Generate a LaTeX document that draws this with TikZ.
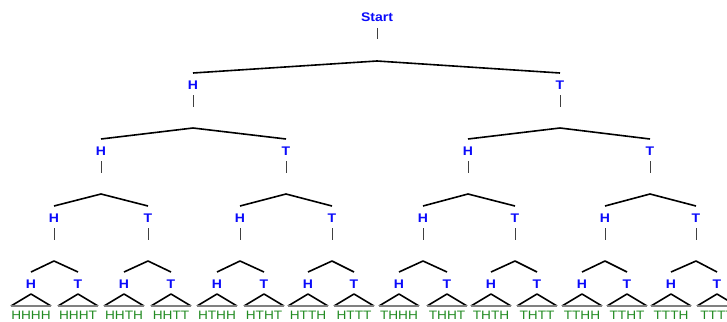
\documentclass[tikz,border=0pt]{standalone}
\usepackage{fontspec}
\newfontfamily\coinfont[FakeStretch=1.12]{Liberation Sans Bold}
\newfontfamily\leaffont[FakeStretch=1.12]{Liberation Sans}
\definecolor{coinblue}{RGB}{10,10,250}
\definecolor{leafgreen}{RGB}{34,139,34}
\tikzset{
  coin/.style={font=\coinfont\fontsize{12.5}{12.5}\selectfont, text=coinblue, inner sep=0pt},
  leaf/.style={font=\leaffont\fontsize{12.2}{12.2}\selectfont, text=leafgreen, inner sep=0pt},
  roof/.style={draw=black, line width=1.6pt, line join=round},
  tick/.style={draw=black!75, line width=1pt},
  side/.style={draw=black, line width=1.6pt, line join=round},
  base/.style={draw=gray, line width=2.6pt},
}
% a labelled outcome: name, x, y, letter; with its roof end (-r) and apex (-a)
\newcommand\coinnode[4]{%
  \node[coin] (#1) at (#2,#3) {#4};
  \coordinate (#1-r) at (#2,#3-12);
  \coordinate (#1-a) at (#2,#3+43);
  \draw[tick] ([yshift=-10pt]#1.center) -- ([yshift=-22pt]#1.center);
}
% a final outcome: name, x, letter; with the small roof over its sequence
\newcommand\lastnode[3]{%
  \node[coin] (#1) at (#2,284) {#3};
  \coordinate (#1-r) at (#2,272);
  \node[leaf] (#1-seq) at (#2,315.5) {#1};
  \draw[side] ([xshift=-20pt,yshift=9.5pt]#1-seq.center) -- ([yshift=21.5pt]#1-seq.center) -- ([xshift=20pt,yshift=9.5pt]#1-seq.center);
  \draw[base] ([xshift=-20pt,yshift=9.5pt]#1-seq.center) -- ([xshift=20pt,yshift=9.5pt]#1-seq.center);
}
\begin{document}
\begin{tikzpicture}[x=1pt,y=-1pt]
\useasboundingbox (0,0) rectangle (727,321);

% root
\node[coin] (S) at (377,17) {Start};
\coordinate (S-a) at (377,61);
\draw[tick] ([yshift=-11pt]S.center) -- ([yshift=-22pt]S.center);

% first toss
\coinnode{H}{193}{85}{H}
\coinnode{T}{560}{85}{T}

% second toss
\coinnode{HH}{101}{151}{H}
\coinnode{HT}{286}{151}{T}
\coinnode{TH}{468}{151}{H}
\coinnode{TT}{650}{151}{T}

% third toss
\coinnode{HHH}{54}{218}{H}
\coinnode{HHT}{148}{218}{T}
\coinnode{HTH}{240}{218}{H}
\coinnode{HTT}{332}{218}{T}
\coinnode{THH}{423}{218}{H}
\coinnode{THT}{515}{218}{T}
\coinnode{TTH}{605}{218}{H}
\coinnode{TTT}{696}{218}{T}

% fourth toss and the sixteen sequences
\lastnode{HHHH}{31}{H}
\lastnode{HHHT}{78}{T}
\lastnode{HHTH}{124}{H}
\lastnode{HHTT}{171}{T}
\lastnode{HTHH}{217}{H}
\lastnode{HTHT}{264}{T}
\lastnode{HTTH}{308}{H}
\lastnode{HTTT}{354}{T}
\lastnode{THHH}{399}{H}
\lastnode{THHT}{447}{T}
\lastnode{THTH}{491}{H}
\lastnode{THTT}{537}{T}
\lastnode{TTHH}{582}{H}
\lastnode{TTHT}{627}{T}
\lastnode{TTTH}{671}{H}
\lastnode{TTTT}{717}{T}

% roofs joining each outcome to its two continuations
\draw[roof] (H-r) -- (S-a) -- (T-r);
\draw[roof] (HH-r) -- (H-a) -- (HT-r);
\draw[roof] (TH-r) -- (T-a) -- (TT-r);
\draw[roof] (HHH-r) -- (HH-a) -- (HHT-r);
\draw[roof] (HTH-r) -- (HT-a) -- (HTT-r);
\draw[roof] (THH-r) -- (TH-a) -- (THT-r);
\draw[roof] (TTH-r) -- (TT-a) -- (TTT-r);
\draw[roof] (HHHH-r) -- (HHH-a) -- (HHHT-r);
\draw[roof] (HHTH-r) -- (HHT-a) -- (HHTT-r);
\draw[roof] (HTHH-r) -- (HTH-a) -- (HTHT-r);
\draw[roof] (HTTH-r) -- (HTT-a) -- (HTTT-r);
\draw[roof] (THHH-r) -- (THH-a) -- (THHT-r);
\draw[roof] (THTH-r) -- (THT-a) -- (THTT-r);
\draw[roof] (TTHH-r) -- (TTH-a) -- (TTHT-r);
\draw[roof] (TTTH-r) -- (TTT-a) -- (TTTT-r);
\end{tikzpicture}
\end{document}
